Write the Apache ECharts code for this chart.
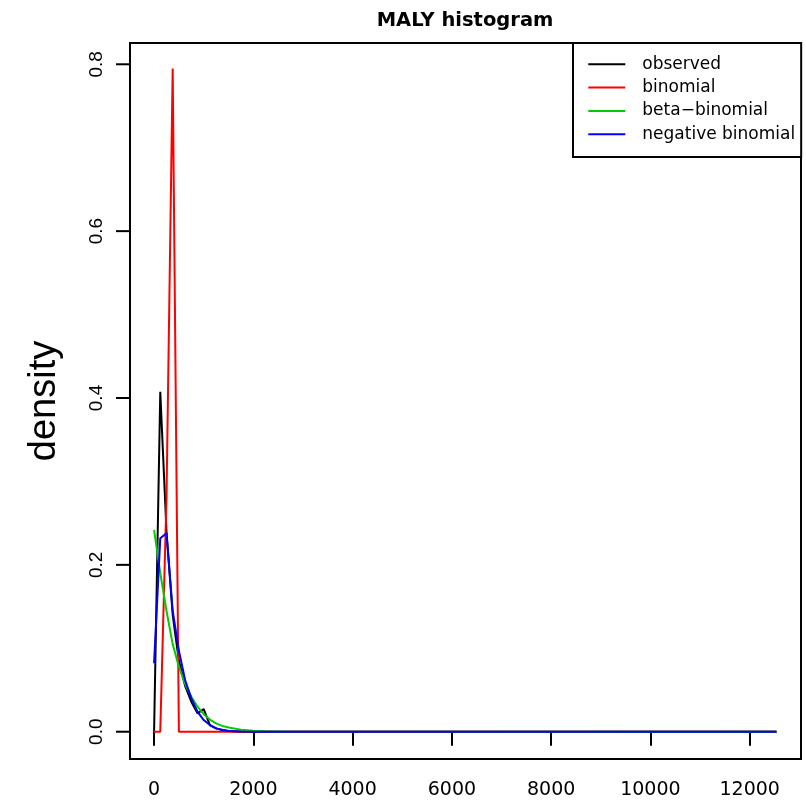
<!DOCTYPE html>
<html>
<head>
<meta charset="utf-8">
<title>MALY histogram</title>
<script src="https://cdn.jsdelivr.net/npm/echarts@6/dist/echarts.min.js"></script>
<style>
  html, body { margin: 0; padding: 0; background: #fff; }
  #chart { width: 806px; height: 807px; }
</style>
</head>
<body>
<div id="chart"></div>
<script>
// Counts grid (bin positions) shared by every curve
const counts = [0, 125, 250, 375, 500, 625, 750, 875, 1000, 1125, 1250, 1375, 1500, 1750, 2000, 2250, 2500, 12540];

// Density of each curve at the positions above
const observed = [0, 0.4075, 0.24, 0.14, 0.085, 0.055, 0.036, 0.022, 0.027, 0.008, 0.004, 0.002, 0.001, 0, 0, 0, 0, 0];
const binomial = [0, 0, 0.28, 0.795, 0, 0, 0, 0, 0, 0, 0, 0, 0, 0, 0, 0, 0, 0];
const betaBinomial = [0.242, 0.19, 0.145, 0.105, 0.078, 0.057, 0.042, 0.030, 0.021, 0.0145, 0.010, 0.007, 0.005, 0.0025, 0.0012, 0.0006, 0.0003, 0];
const negBinomial = [0.082, 0.232, 0.238, 0.145, 0.097, 0.062, 0.040, 0.024, 0.014, 0.008, 0.004, 0.002, 0.001, 0.0003, 0.0001, 0, 0, 0];

const seriesNames = ['observed', 'binomial', 'beta\u2212binomial', 'negative binomial'];
const seriesColors = ['#000000', '#ff0000', '#00cc00', '#0000ff'];

// Tick positions
const xTicks = [0, 2000, 4000, 6000, 8000, 10000, 12000];
const yTicks = [0, 0.2, 0.4, 0.6, 0.8];

// Axis ranges (data range padded by 4% on each side)
const xRange = [-485, 13034];
const yRange = [-0.0327, 0.8255];

const pairs = vals => counts.map((c, i) => [c, vals[i]]);
const allValues = [observed, binomial, betaBinomial, negBinomial];
const TICK_LEN = 14;

// Short outward tick marks on the left frame edge at the given density values
const yTickSeries = {
  name: 'y ticks',
  type: 'custom',
  clip: false,
  silent: true,
  z: 10,
  data: yTicks.map(v => [xRange[0], v]),
  renderItem: (params, api) => {
    const p = api.coord([api.value(0), api.value(1)]);
    return {
      type: 'line',
      shape: { x1: p[0] - TICK_LEN, y1: p[1], x2: p[0], y2: p[1] },
      style: { stroke: '#000', lineWidth: 2 }
    };
  }
};

const chart = echarts.init(document.getElementById('chart'), null, { renderer: 'canvas' });

chart.setOption({
  animation: false,
  backgroundColor: '#ffffff',
  title: {
    text: 'MALY histogram',
    left: 465,
    top: 11,
    padding: 0,
    textAlign: 'center',
    textStyle: { fontFamily: 'DejaVu Sans', fontWeight: 'bold', fontSize: 19.5, color: '#000' }
  },
  legend: {
    orient: 'vertical',
    left: 573,
    top: 43,
    padding: [12.8, 6, 14.3, 15.3],
    itemGap: 6.3,
    itemWidth: 37,
    itemHeight: 17,
    icon: 'path://M0 0 H37 V2 H0 Z',
    borderColor: '#000',
    borderWidth: 2,
    backgroundColor: '#fff',
    data: seriesNames,
    textStyle: { fontFamily: 'DejaVu Sans', fontSize: 17, color: '#000', lineHeight: 17, padding: [0, 0, 0, 12] }
  },
  grid: {
    left: 130, right: 5, top: 43, bottom: 48,
    show: true, borderColor: '#000', borderWidth: 2, backgroundColor: 'transparent'
  },
  xAxis: {
    type: 'value',
    min: xRange[0],
    max: xRange[1],
    axisLine: { show: false },
    splitLine: { show: false },
    axisTick: {
      show: true, inside: false, length: TICK_LEN,
      customValues: xTicks,
      lineStyle: { color: '#000', width: 2 }
    },
    axisLabel: {
      customValues: xTicks,
      margin: 22,
      formatter: v => String(v),
      fontFamily: 'DejaVu Sans', fontSize: 19, lineHeight: 19, color: '#000'
    }
  },
  yAxis: {
    type: 'value',
    min: yRange[0],
    max: yRange[1],
    name: 'density',
    nameLocation: 'middle',
    nameRotate: 90,
    nameGap: 66,
    nameTextStyle: { fontFamily: 'Liberation Sans', fontSize: 38, color: '#000' },
    axisLine: { show: false },
    splitLine: { show: false },
    axisTick: { show: false },
    axisLabel: {
      customValues: yTicks,
      rotate: 90,
      margin: 24,
      formatter: v => v.toFixed(1),
      fontFamily: 'Liberation Sans', fontSize: 19, lineHeight: 19, color: '#000'
    }
  },
  series: seriesNames.map((name, k) => ({
    name: name,
    type: 'line',
    data: pairs(allValues[k]),
    symbol: 'none',
    smooth: false,
    clip: true,
    color: seriesColors[k],
    lineStyle: { color: seriesColors[k], width: 2 },
    z: 2 + k
  })).concat([yTickSeries])
});
</script>
</body>
</html>
